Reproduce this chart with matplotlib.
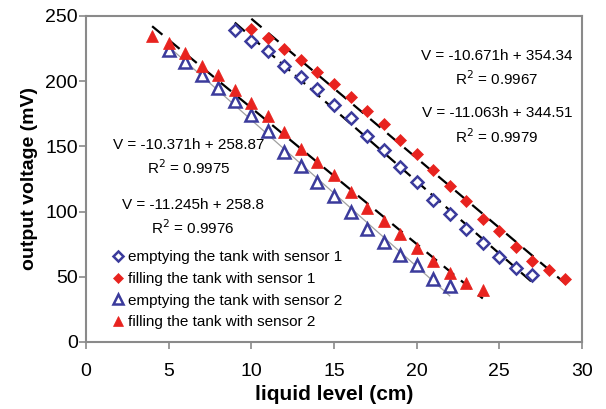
import numpy as np
import matplotlib
matplotlib.use("Agg")
import matplotlib.pyplot as plt

plt.rcParams['font.family'] = ['Liberation Sans', 'DejaVu Sans']

# liquid level (cm) and output voltage (mV)
h_s1_empty = list(range(9, 28))
v_s1_empty = [239, 231, 223, 212, 203, 194, 182, 172, 158, 147, 134, 123, 109, 98, 87, 76, 65, 57, 51]

h_s1_fill = list(range(10, 30))
v_s1_fill = [240, 233, 225, 216, 207, 198, 188, 177, 167, 155, 144, 132, 120, 108, 94, 85, 73, 62, 55, 48]

h_s2_empty = list(range(5, 23))
v_s2_empty = [224, 215, 205, 195, 185, 174, 162, 146, 135, 123, 112, 100, 87, 77, 67, 59, 48, 43]

h_s2_fill = list(range(4, 25))
v_s2_fill = [235, 229, 222, 212, 205, 193, 183, 173, 161, 148, 138, 128, 115, 103, 93, 83, 72, 62, 53, 45, 40]

labels = ["emptying the tank with sensor 1", "filling the tank with sensor 1",
          "emptying the tank with sensor 2", "filling the tank with sensor 2"]

fit_texts = [
    ("V = -10.371h + 258.87", "R$^2$ = 0.9975", 0.208, 0.604, 0.534),
    ("V = -11.245h + 258.8", "R$^2$ = 0.9976", 0.216, 0.420, 0.350),
    ("V = -10.671h + 354.34", "R$^2$ = 0.9967", 0.829, 0.877, 0.807),
    ("V = -11.063h + 344.51", "R$^2$ = 0.9979", 0.829, 0.702, 0.629),
]

blue = "#3b3b9c"
red = "#e8231f"
frame = "#8a8a8a"

fig = plt.figure(figsize=(6.06, 4.09), dpi=100)
ax = fig.add_axes([86 / 606, 1 - 342 / 409, 496 / 606, 326 / 409])


def trend(ax, h, v, **kw):
    k, b = np.polyfit(h, v, 1)
    xs = np.array([h[0], h[-1]], dtype=float)
    ax.plot(xs, k * xs + b, zorder=1, **kw)


trend(ax, h_s1_empty, v_s1_empty, color="black", lw=1.6, ls=(0, (6, 3)))
trend(ax, h_s1_fill, v_s1_fill, color="black", lw=1.6, ls=(0, (6, 4)))
trend(ax, h_s2_empty, v_s2_empty, color="#a0a0a0", lw=0.9, ls="-")
trend(ax, h_s2_fill, v_s2_fill, color="black", lw=1.6, ls=(0, (6, 4)))

ax.plot(h_s1_empty, v_s1_empty, ls="none", marker="D", ms=6.5, mfc="white", mec=blue, mew=1.8,
        label=labels[0], zorder=3)
ax.plot(h_s1_fill, v_s1_fill, ls="none", marker="D", ms=6, mfc=red, mec=red, mew=0.5,
        label=labels[1], zorder=3)
ax.plot(h_s2_empty, v_s2_empty, ls="none", marker="^", ms=8, mfc="white", mec=blue, mew=1.8,
        label=labels[2], zorder=3)
ax.plot(h_s2_fill, v_s2_fill, ls="none", marker="^", ms=8, mfc=red, mec=red, mew=0.5,
        label=labels[3], zorder=3)

for eq, r2, x, y1, y2 in fit_texts:
    ax.text(x, y1, eq, transform=ax.transAxes, ha="center", va="center", fontsize=11)
    ax.text(x, y2, r2, transform=ax.transAxes, ha="center", va="center", fontsize=11)

ax.set_xlim(0, 30)
ax.set_ylim(0, 250)
ax.set_xticks(range(0, 31, 5))
ax.set_yticks(range(0, 251, 50))
ax.tick_params(direction="out", length=5, width=1.2, color=frame, labelsize=14)
ax.tick_params(axis="x", pad=10)
ax.tick_params(axis="y", pad=1)
for s in ax.spines.values():
    s.set_color(frame)
    s.set_linewidth(1.5)

ax.set_xlabel("liquid level (cm)", fontsize=15, fontweight="bold", labelpad=4)
ax.set_ylabel("output voltage (mV)", fontsize=14, fontweight="bold", labelpad=5)

leg = ax.legend(loc="lower left", bbox_to_anchor=(0.035, 0.02), frameon=False, fontsize=11,
                handletextpad=0.1, labelspacing=0.5, handlelength=1.1, borderaxespad=0,
                markerscale=0.85)

fig.savefig("out.png", dpi=100)
